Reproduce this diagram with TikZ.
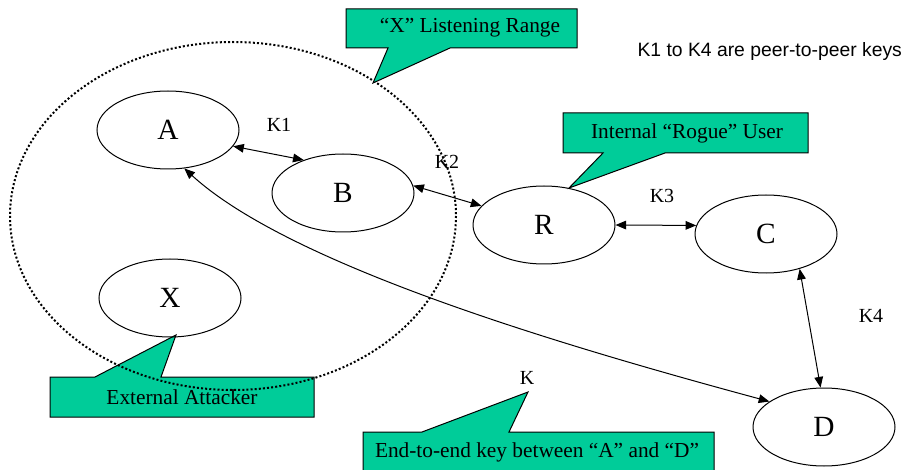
\documentclass[tikz,border=0pt]{standalone}
\usepackage{fontspec}
\setmainfont{Liberation Serif}
\newfontfamily\notefont{Liberation Sans}
\usetikzlibrary{shapes.geometric,arrows.meta}

\definecolor{calloutgreen}{RGB}{0,204,153}
\tikzset{every picture/.style={line width=0.75pt}}
\tikzset{
  station/.style={draw, ellipse, minimum width=106.5pt, minimum height=58.5pt, inner sep=0pt, font=\fontsize{22}{26}\selectfont},
  keylabel/.style={inner sep=0.75pt, font=\fontsize{15}{18}\selectfont},
  callout/.style={draw, fill=calloutgreen},
  callouttext/.style={inner sep=0.75pt, font=\fontsize{16}{19}\selectfont},
  listenrange/.style={line width=1.5pt, dash pattern={on 1.5pt off 1.6pt}},
  >={Triangle[length=8pt,width=6.5pt]}
}

\begin{document}
\begin{tikzpicture}[x=0.75pt,y=0.75pt,yscale=-1,xscale=1]
\path[use as bounding box] (0,0) rectangle (906,470);

%Callout: External Attacker (lies under the range)
\draw[callout] (50,377) -- (95,377) -- (176,335) -- (161,377) -- (314,377) -- (314,417) -- (50,417) -- cycle ;
% Text Node
\node[callouttext] (attacker) at (182,397) {External Attacker};

%Dotted Ellipse: listening range of X
\draw[listenrange] (233,216) ellipse [x radius=223, y radius=174] ;

%Callout: listening range
\draw[callout] (346,9) -- (577,9) -- (577,48) -- (450,48) -- (373,83) -- (388,48) -- (346,48) -- cycle ;
\node[callouttext] (rangetext) at (470,28) {“X” Listening Range};

%Callout: rogue user
\draw[callout] (563,113) -- (808,113) -- (808,153) -- (665,153) -- (569,188) -- (603,153) -- (563,153) -- cycle ;
\node[callouttext] (roguetext) at (687,133) {Internal “Rogue” User};

%Callout: end-to-end key
\draw[callout] (363,432) -- (422,432) -- (528,392) -- (509,432) -- (714,432) -- (714,472) -- (363,472) -- cycle ;
\node[callouttext] (e2etext) at (537,452) {End-to-end key between “A” and “D”};

%Stations
\node[station] (A) at (168,130) {A};
\node[station] (B) at (343,193) {B};
\node[station] (R) at (544,225) {R};
\node[station] (C) at (766,234) {C};
\node[station] (X) at (170,298) {X};
\node[station] (D) at (824,427) {D};

%Peer-to-peer keys
\draw[<->] (A.-14) -- (B.140) ;
\draw[<->] (B.6) -- (R.163) ;
\draw[<->] (R.0) -- (C.173) ;
\draw[<->] (C.-46) -- (D.95) ;

%End-to-end key
\draw[<->] (D.155) .. controls (560,345) and (290,265) .. (A.-67) ;

% Key labels
\node[keylabel] (k1) at (279,125) {K1};
\node[keylabel] (k2) at (447,162) {K2};
\node[keylabel] (k3) at (662,196) {K3};
\node[keylabel] (k4) at (871,316) {K4};
\node[keylabel] (k) at (527,378) {K};

% Text Node
\node[anchor=base west, inner sep=0pt, font=\notefont\fontsize{14.5}{17}\selectfont] (note) at (637,57) {K1 to K4 are peer-to-peer keys};

\end{tikzpicture}
\end{document}
